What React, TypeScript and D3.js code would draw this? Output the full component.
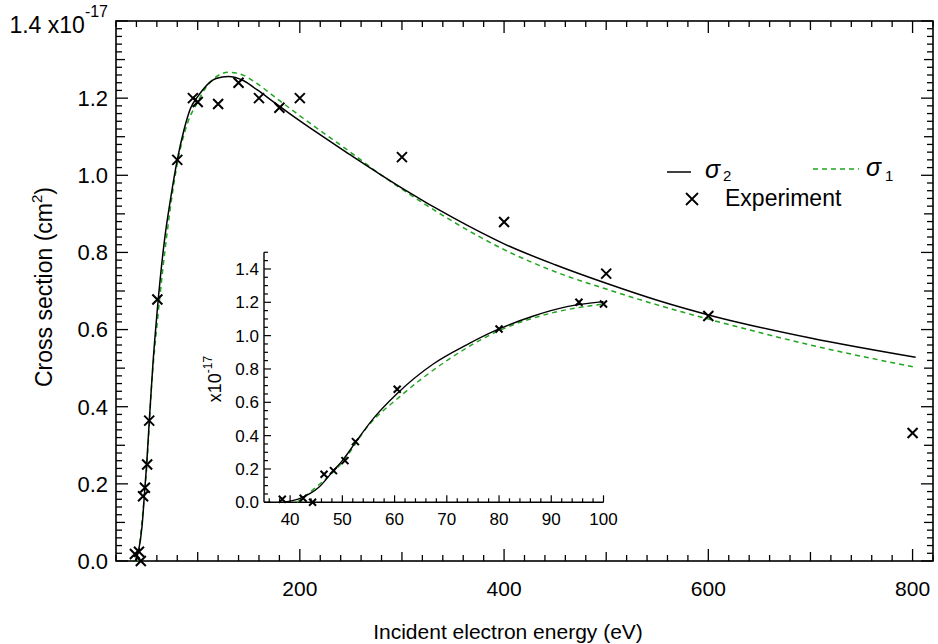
import React from 'react';
import * as d3 from 'd3';

// sigma_2 (solid black), units of 1e-17 cm^2
const sigma2Energy = [38.7, 42, 45.5, 48.3, 50, 52.75, 56, 60.4, 67.4, 73.8, 80, 86.6, 93, 100, 105, 118, 130, 145, 158, 177, 190, 210, 230, 250, 279, 300, 350, 401, 450, 500, 550, 603, 700, 803];
const sigma2Value = [0, 0.025, 0.09, 0.19, 0.25, 0.37, 0.505, 0.65, 0.83, 0.945, 1.04, 1.118, 1.174, 1.204, 1.222, 1.251, 1.256, 1.245, 1.222, 1.185, 1.16, 1.123, 1.087, 1.052, 1.002, 0.967, 0.89, 0.821, 0.768, 0.72, 0.676, 0.636, 0.578, 0.528];

// sigma_1 (green dashed)
const sigma1Energy = [41.3, 45.1, 50, 55, 61, 70, 80, 90, 100, 105, 118, 130, 145, 158, 177, 190, 210, 230, 250, 279, 300, 350, 401, 450, 500, 550, 603, 700, 803];
const sigma1Value = [0, 0.094, 0.24, 0.46, 0.634, 0.85, 1.03, 1.135, 1.19, 1.215, 1.255, 1.267, 1.259, 1.238, 1.2, 1.174, 1.135, 1.097, 1.059, 1.002, 0.964, 0.88, 0.806, 0.75, 0.705, 0.664, 0.625, 0.56, 0.502];

// experiment points
const expEnergy = [38.5, 42.5, 44.3, 46.5, 48.3, 50.5, 52.5, 60.5, 80, 95.3, 100, 120, 140, 160, 180, 200, 300, 400, 500, 600, 800];
const expValue = [0.018, 0.024, 0, 0.168, 0.19, 0.25, 0.364, 0.678, 1.04, 1.2, 1.19, 1.185, 1.24, 1.2, 1.175, 1.2, 1.047, 0.879, 0.745, 0.635, 0.332];

const mainXLabels = [200, 400, 600, 800];
const mainYLabels = [0, 0.2, 0.4, 0.6, 0.8, 1.0, 1.2];
const insetXLabels = [40, 50, 60, 70, 80, 90, 100];
const insetYLabels = [0, 0.2, 0.4, 0.6, 0.8, 1.0, 1.2, 1.4];

const FONT = 'Liberation Sans, Arial, sans-serif';
const GREEN = '#1fa51f';

const App = () => {
  // main frame
  const m = { left: 116, right: 933, top: 21, bottom: 561 };
  const x = d3.scaleLinear().domain([20, 820]).range([m.left, m.right]);
  const y = d3.scaleLinear().domain([0, 1.4]).range([m.bottom, m.top]);

  // inset axes
  const ins = { left: 264, right: 603.5, top: 252.3, bottom: 502.3 };
  const xi = d3.scaleLinear().domain([35, 100]).range([ins.left, ins.right]);
  const yi = d3.scaleLinear().domain([0, 1.5]).range([ins.bottom, ins.top]);

  const s2 = sigma2Energy.map((e, i) => [e, sigma2Value[i]] as [number, number]);
  const s1 = sigma1Energy.map((e, i) => [e, sigma1Value[i]] as [number, number]);
  const pts = expEnergy.map((e, i) => [e, expValue[i]] as [number, number]);

  const mainLine = d3.line<[number, number]>().x(d => x(d[0])).y(d => y(d[1])).curve(d3.curveMonotoneX);
  const insetLine = d3.line<[number, number]>().x(d => xi(d[0])).y(d => yi(d[1])).curve(d3.curveMonotoneX);

  const s2In = s2.filter(d => d[0] <= 100);
  const s1In = s1.filter(d => d[0] <= 100);
  const ptsIn = pts.filter(d => d[0] >= 35 && d[0] <= 100);

  // tick positions
  const xTicks = d3.range(20, 821, 20);
  const yTicks = d3.range(0, 71).map(i => i * 0.02);
  const xLen = (v: number) => (v % 200 === 0 ? 12 : v % 100 === 0 ? 9 : 6);
  const yLen = (i: number) => (i % 10 === 0 ? 12 : i % 5 === 0 ? 9 : 6);

  const insXTicks = d3.range(36, 101, 2);
  const insYTicks = d3.range(0, 31).map(i => i * 0.05);

  const cross = (r: number) => `M${-r},${-r}L${r},${r}M${-r},${r}L${r},${-r}`;

  return (
    <svg width={938} height={644} style={{ position: 'absolute', left: 0, top: 0, background: '#fff' }} fontFamily={FONT}>
      <rect width={938} height={644} fill="#fff" />

      {/* frame */}
      <rect x={m.left} y={m.top} width={m.right - m.left} height={m.bottom - m.top} fill="none" stroke="#000" strokeWidth={1.6} />

      {/* bottom + top ticks */}
      {xTicks.map(v => (
        <g key={'xt' + v}>
          <line x1={x(v)} x2={x(v)} y1={m.bottom} y2={m.bottom - xLen(v)} stroke="#000" strokeWidth={1.3} />
          <line x1={x(v)} x2={x(v)} y1={m.top} y2={m.top + xLen(v)} stroke="#000" strokeWidth={1.3} />
        </g>
      ))}
      {/* left + right ticks */}
      {yTicks.map((v, i) => (
        <g key={'yt' + i}>
          <line x1={m.left} x2={m.left + yLen(i)} y1={y(v)} y2={y(v)} stroke="#000" strokeWidth={1.3} />
          <line x1={m.right} x2={m.right - yLen(i)} y1={y(v)} y2={y(v)} stroke="#000" strokeWidth={1.3} />
        </g>
      ))}

      {mainXLabels.map(v => (
        <text key={'xl' + v} x={x(v)} y={596} textAnchor="middle" fontSize={21}>{v}</text>
      ))}
      {mainYLabels.map(v => (
        <text key={'yl' + v} x={108} y={y(v)} dy="0.36em" textAnchor="end" fontSize={22}>{v.toFixed(1)}</text>
      ))}
      <text x={108} y={33} textAnchor="end" fontSize={23}>
        1.4 x10<tspan fontSize={16} dy={-16}>-17</tspan>
      </text>

      <text x={508} y={639} textAnchor="middle" fontSize={21}>Incident electron energy (eV)</text>
      <text transform="translate(52,287) rotate(-90)" textAnchor="middle" fontSize={23}>
        Cross section (cm<tspan fontSize={15} dy={-10}>2</tspan><tspan dy={10}>)</tspan>
      </text>

      {/* main curves */}
      <path d={mainLine(s1) || ''} fill="none" stroke={GREEN} strokeWidth={1.5} strokeDasharray="5,4" />
      <path d={mainLine(s2) || ''} fill="none" stroke="#000" strokeWidth={1.5} />
      {pts.map((d, i) => (
        <path key={'p' + i} d={cross(5)} transform={`translate(${x(d[0])},${y(d[1])})`} stroke="#000" strokeWidth={2} fill="none" />
      ))}

      {/* legend */}
      <line x1={667} x2={691} y1={172} y2={172} stroke="#000" strokeWidth={1.5} />
      <text x={705} y={178} fontSize={25} fontStyle="italic">σ</text>
      <text x={723} y={180.5} fontSize={15}>2</text>
      <line x1={813} x2={859} y1={169} y2={169} stroke={GREEN} strokeWidth={1.5} strokeDasharray="5,4" />
      <text x={866} y={176} fontSize={25} fontStyle="italic">σ</text>
      <text x={885} y={180.5} fontSize={15}>1</text>
      <path d={cross(6)} transform="translate(692,199)" stroke="#000" strokeWidth={1.8} fill="none" />
      <text x={725} y={205.5} fontSize={23}>Experiment</text>

      {/* inset */}
      <line x1={ins.left} x2={ins.left} y1={ins.top} y2={ins.bottom} stroke="#000" strokeWidth={1.4} />
      <line x1={ins.left} x2={ins.right} y1={ins.bottom} y2={ins.bottom} stroke="#000" strokeWidth={1.4} />
      {insXTicks.map(v => (
        <line key={'ixt' + v} x1={xi(v)} x2={xi(v)} y1={ins.bottom} y2={ins.bottom - (v % 10 === 0 ? 7 : 4)} stroke="#000" strokeWidth={1.2} />
      ))}
      {insYTicks.map((v, i) => (
        <line key={'iyt' + i} x1={ins.left} x2={ins.left + (i % 4 === 0 ? 7 : 4)} y1={yi(v)} y2={yi(v)} stroke="#000" strokeWidth={1.2} />
      ))}
      {insetXLabels.map(v => (
        <text key={'ixl' + v} x={xi(v)} y={525} textAnchor="middle" fontSize={17}>{v}</text>
      ))}
      {insetYLabels.map(v => (
        <text key={'iyl' + v} x={259} y={yi(v)} dy="0.36em" textAnchor="end" fontSize={17}>{v.toFixed(1)}</text>
      ))}
      <text transform="translate(221,379) rotate(-90)" textAnchor="middle" fontSize={18}>
        x10<tspan fontSize={12} dy={-9}>-17</tspan>
      </text>

      <path d={insetLine(s1In) || ''} fill="none" stroke={GREEN} strokeWidth={1.4} strokeDasharray="5,4" />
      <path d={insetLine(s2In) || ''} fill="none" stroke="#000" strokeWidth={1.4} />
      {ptsIn.map((d, i) => (
        <path key={'ip' + i} d={cross(3.5)} transform={`translate(${xi(d[0])},${yi(d[1])})`} stroke="#000" strokeWidth={2} fill="none" />
      ))}
    </svg>
  );
};

export default App;
